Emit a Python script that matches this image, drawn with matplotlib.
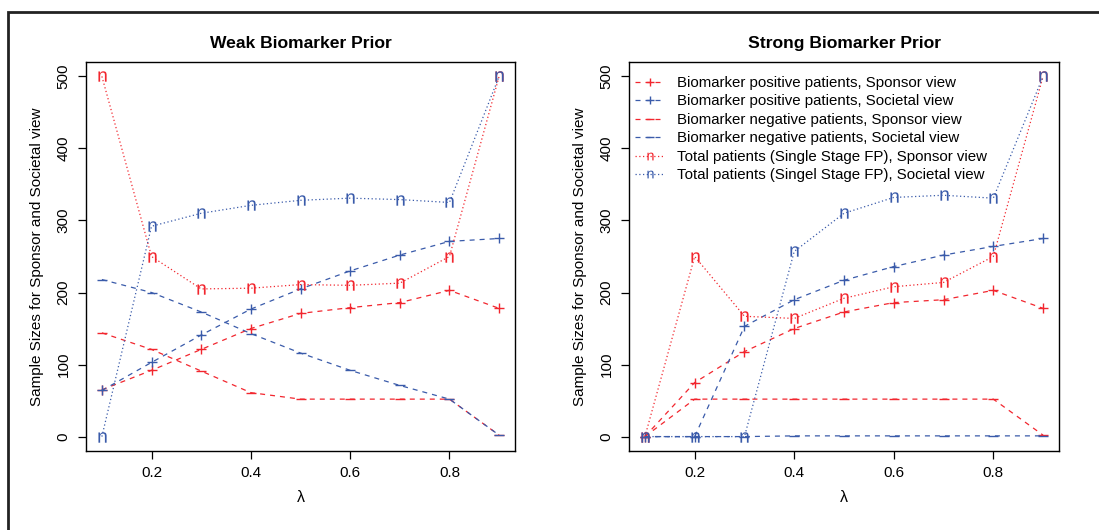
import matplotlib.pyplot as plt
from matplotlib.patches import Rectangle

plt.rcParams['font.family'] = ['Liberation Sans', 'DejaVu Sans']

lam = [0.1, 0.2, 0.3, 0.4, 0.5, 0.6, 0.7, 0.8, 0.9]

# Weak biomarker prior
weak_pos_sponsor = [65, 92, 121, 150, 171, 179, 186, 203, 178]
weak_pos_societal = [64, 103, 141, 177, 205, 230, 252, 271, 275]
weak_neg_sponsor = [144, 121, 91, 61, 52, 52, 52, 52, 2]
weak_neg_societal = [218, 200, 173, 143, 116, 92, 71, 52, 2]
weak_tot_sponsor = [500, 250, 205, 206, 211, 210, 213, 250, 500]
weak_tot_societal = [0, 292, 310, 321, 328, 331, 329, 325, 500]

# Strong biomarker prior
strong_pos_sponsor = [0, 75, 118, 150, 173, 186, 190, 203, 178]
strong_pos_societal = [0, 0, 153, 190, 217, 236, 252, 264, 275]
strong_neg_sponsor = [0, 52, 52, 52, 52, 52, 52, 52, 2]
strong_neg_societal = [0, 0, 0, 1, 1, 1, 1, 1, 1]
strong_tot_sponsor = [0, 250, 167, 164, 192, 208, 214, 250, 500]
strong_tot_societal = [0, 0, 0, 257, 310, 332, 335, 331, 500]

labels = [
    "Biomarker positive patients, Sponsor view",
    "Biomarker positive patients, Societal view",
    "Biomarker negative patients, Sponsor view",
    "Biomarker negative patients, Societal view",
    "Total patients (Single Stage FP), Sponsor view",
    "Total patients (Singel Stage FP), Societal view",
]

RED = "#F2262E"
BLUE = "#3A5BAA"
N_MARK = r"$\mathregular{n}$"
styles = [
    dict(color=RED, ls=(0, (4, 4)), marker="+", ms=7, mew=1.0),
    dict(color=BLUE, ls=(0, (4, 4)), marker="+", ms=7, mew=1.0),
    dict(color=RED, ls=(0, (4, 4)), marker="_", ms=7, mew=1.0),
    dict(color=BLUE, ls=(0, (4, 4)), marker="_", ms=7, mew=1.0),
    dict(color=RED, ls=(0, (1, 2)), marker=N_MARK, ms=7.5, mew=0),
    dict(color=BLUE, ls=(0, (1, 2)), marker=N_MARK, ms=7.5, mew=0),
]

fig = plt.figure(figsize=(10.99, 5.30), dpi=100)
fig.patches.append(Rectangle((8 / 1099, -0.1), 1.2, (518 + 53) / 530,
                             transform=fig.transFigure, fill=False,
                             edgecolor="#222222", lw=2))

ax1 = fig.add_axes([86 / 1099, 79 / 530, 429 / 1099, 389 / 530])
ax2 = fig.add_axes([629 / 1099, 79 / 530, 430 / 1099, 389 / 530])

panels = [
    (ax1, "Weak Biomarker Prior",
     [weak_pos_sponsor, weak_pos_societal, weak_neg_sponsor,
      weak_neg_societal, weak_tot_sponsor, weak_tot_societal]),
    (ax2, "Strong Biomarker Prior",
     [strong_pos_sponsor, strong_pos_societal, strong_neg_sponsor,
      strong_neg_societal, strong_tot_sponsor, strong_tot_societal]),
]

for ax, title, series in panels:
    for vals, st, lab in zip(series, styles, labels):
        ax.plot(lam, vals, lw=0.9, label=lab, **st)
    ax.set_xlim(0.068, 0.932)
    ax.set_ylim(-20, 520)
    ax.set_xticks([0.2, 0.4, 0.6, 0.8])
    ax.set_yticks([0, 100, 200, 300, 400, 500])
    ax.set_yticklabels(["0", "100", "200", "300", "400", "500"],
                       rotation=90, va="center")
    ax.tick_params(direction="out", length=6, width=0.9, labelsize=11,
                   pad=5)
    for sp in ax.spines.values():
        sp.set_linewidth(1.0)
    ax.set_title(title, fontsize=12.6, fontweight="bold", pad=10)
    ax.set_xlabel("λ", fontsize=11.5, labelpad=7)
    ax.set_ylabel("Sample Sizes for Sponsor and Societal view", fontsize=11,
                  labelpad=9)

ax2.legend(loc="upper left", bbox_to_anchor=(0.0, 0.98), frameon=False,
           fontsize=10.8, handlelength=2.0, handletextpad=0.8,
           labelspacing=0.3, borderaxespad=0.1, borderpad=0.3,
           markerscale=0.75)

fig.savefig("out.png", dpi=100)
